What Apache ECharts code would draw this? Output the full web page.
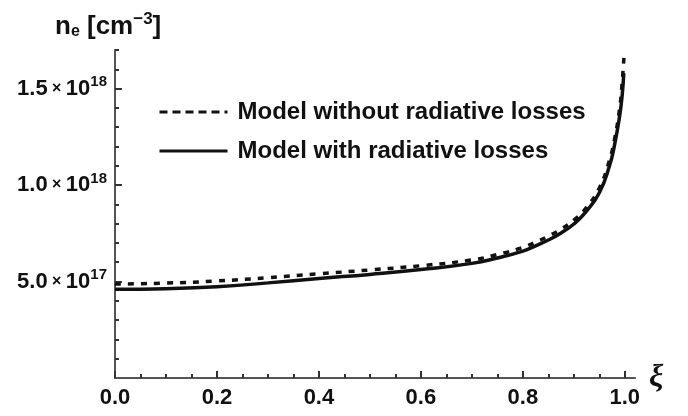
<!DOCTYPE html>
<html>
<head>
<meta charset="utf-8">
<script src="https://cdn.jsdelivr.net/npm/echarts@6/dist/echarts.min.js"></script>
<style>
html,body{margin:0;padding:0;background:#fff;}
#c{width:688px;height:416px;}
</style>
</head>
<body>
<div id="c"></div>
<script>
// xi values (dimensionless) and electron density in units of 1e18 cm^-3
var xiDashed = [0.0, 0.1, 0.2, 0.3, 0.4, 0.5, 0.6, 0.7, 0.75, 0.8, 0.825, 0.85, 0.875, 0.9, 0.925, 0.95, 0.97, 0.98, 0.99, 0.995, 0.999];
var neDashed = [0.487, 0.492, 0.503, 0.520, 0.540, 0.560, 0.582, 0.612, 0.640, 0.677, 0.704, 0.735, 0.772, 0.818, 0.885, 0.985, 1.13, 1.24, 1.40, 1.54, 1.69];
var xiSolid = [0.0, 0.1, 0.2, 0.3, 0.4, 0.5, 0.6, 0.7, 0.75, 0.8, 0.825, 0.85, 0.875, 0.9, 0.925, 0.95, 0.97, 0.98, 0.99, 0.995, 0.998];
var neSolid = [0.460, 0.463, 0.473, 0.493, 0.516, 0.537, 0.562, 0.594, 0.622, 0.658, 0.685, 0.715, 0.752, 0.798, 0.865, 0.960, 1.10, 1.21, 1.36, 1.47, 1.58];

var seriesNames = ['Model without radiative losses', 'Model with radiative losses'];

var xMajorTicks = [0, 0.2, 0.4, 0.6, 0.8, 1.0];
var xMinorTicks = [0.05, 0.1, 0.15, 0.25, 0.3, 0.35, 0.45, 0.5, 0.55, 0.65, 0.7, 0.75, 0.85, 0.9, 0.95];
var yMajorTicks = [0.5, 1.0, 1.5];
var yMinorTicks = [0.1, 0.2, 0.3, 0.4, 0.6, 0.7, 0.8, 0.9, 1.1, 1.2, 1.3, 1.4, 1.6, 1.7];
var yTickMantissa = ['5.0', '1.0', '1.5'];
var yTickExponent = ['17', '18', '18'];

function pairs(xs, ys) { return xs.map(function (x, i) { return [x, ys[i]]; }); }

var FONT = 'Liberation Sans';
var chart = echarts.init(document.getElementById('c'), null, {renderer: 'canvas'});

var axisCommon = {
  type: 'value',
  splitLine: {show: false},
  axisLine: {show: true, lineStyle: {color: '#555', width: 2}}
};

chart.setOption({
  animation: false,
  backgroundColor: '#fff',
  title: {
    left: 50, top: 6,
    text: '{n|n}{e|e}{n| [cm}{s|−3}{n|]}',
    textStyle: {
      rich: {
        n: {fontFamily: FONT, fontWeight: 'bold', fontSize: 26, color: '#111'},
        e: {fontFamily: FONT, fontWeight: 'bold', fontSize: 16, color: '#111', padding: [10, 0, 0, 0]},
        s: {fontFamily: FONT, fontWeight: 'bold', fontSize: 17, color: '#111', padding: [0, 0, 14, 0]}
      }
    }
  },
  legend: {
    show: true,
    orient: 'vertical',
    left: 153, top: 94,
    itemWidth: 68, itemHeight: 14, itemGap: 13,
    textStyle: {fontFamily: FONT, fontWeight: 'bold', fontSize: 24, color: '#111', lineHeight: 26, padding: [0, 0, 0, 5]},
    data: [
      {name: seriesNames[0], itemStyle: {opacity: 0}, lineStyle: {type: [8, 5], width: 3, color: '#111'}},
      {name: seriesNames[1], itemStyle: {opacity: 0}, lineStyle: {type: 'solid', width: 3, color: '#111'}}
    ]
  },
  grid: {left: 115, right: 53, top: 50, bottom: 38, containLabel: false},
  xAxis: [
    Object.assign({}, axisCommon, {
      min: 0, max: 1.02, position: 'bottom',
      name: 'ξ', nameLocation: 'end', nameGap: 14,
      nameTextStyle: {fontFamily: 'Liberation Serif', fontStyle: 'italic', fontWeight: 'bold', fontSize: 32, color: '#111', verticalAlign: 'middle', padding: [0, 0, 8, 0]},
      axisTick: {show: true, inside: true, length: 7, lineStyle: {color: '#333', width: 2}, customValues: xMajorTicks},
      axisLabel: {show: true, customValues: xMajorTicks, margin: 9, fontFamily: FONT, fontWeight: 'bold', fontSize: 22, color: '#111',
        formatter: function (v) { return v.toFixed(1); }}
    }),
    Object.assign({}, axisCommon, {
      min: 0, max: 1.02, position: 'bottom', offset: 0,
      axisLine: {show: false},
      axisTick: {show: true, inside: true, length: 4, lineStyle: {color: '#333', width: 2}, customValues: xMinorTicks},
      axisLabel: {show: false}
    })
  ],
  yAxis: [
    Object.assign({}, axisCommon, {
      min: 0, max: 1.7, position: 'left',
      axisTick: {show: true, inside: true, length: 7, lineStyle: {color: '#333', width: 2}, customValues: yMajorTicks},
      axisLabel: {
        show: true, customValues: yMajorTicks, margin: 8,
        formatter: function (v) {
          var i = yMajorTicks.indexOf(Math.round(v * 10) / 10);
          if (i < 0) return '';
          return '{m|' + yTickMantissa[i] + '}{x| × }{m|10}{s|' + yTickExponent[i] + '}';
        },
        rich: {
          m: {fontFamily: FONT, fontWeight: 'bold', fontSize: 22, color: '#111'},
          x: {fontFamily: FONT, fontWeight: 'bold', fontSize: 16, color: '#111'},
          s: {fontFamily: FONT, fontWeight: 'bold', fontSize: 15, color: '#111', padding: [0, 0, 13, 0]}
        }
      }
    }),
    Object.assign({}, axisCommon, {
      min: 0, max: 1.7, position: 'left', offset: 0,
      axisLine: {show: false},
      axisTick: {show: true, inside: true, length: 4, lineStyle: {color: '#333', width: 2}, customValues: yMinorTicks},
      axisLabel: {show: false}
    })
  ],
  series: [
    {
      name: seriesNames[0], type: 'line', xAxisIndex: 0, yAxisIndex: 0,
      data: pairs(xiDashed, neDashed),
      smooth: 0.5, symbol: 'none',
      lineStyle: {type: [6, 7], width: 3.5, color: '#111'}, itemStyle: {color: '#111'}
    },
    {
      name: seriesNames[1], type: 'line', xAxisIndex: 0, yAxisIndex: 0,
      data: pairs(xiSolid, neSolid),
      smooth: 0.5, symbol: 'none',
      lineStyle: {type: 'solid', width: 3.5, color: '#111'}, itemStyle: {color: '#111'}
    }
  ]
});
</script>
</body>
</html>
